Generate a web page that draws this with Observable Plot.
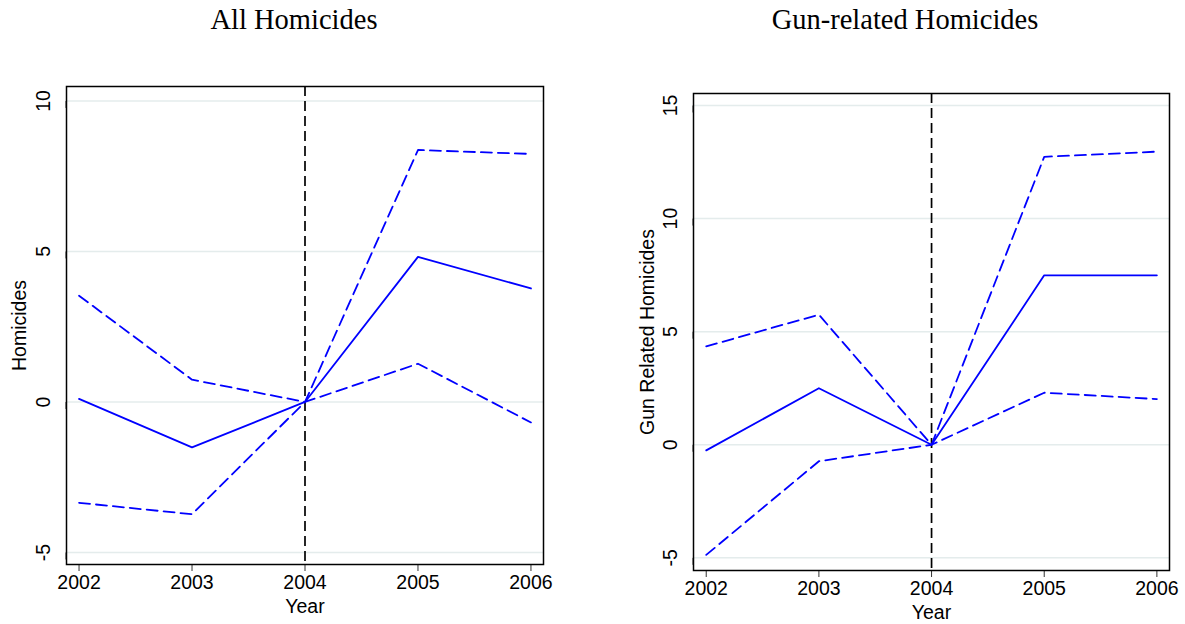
<!DOCTYPE html>
<html>
<head>
<meta charset="utf-8">
<script src="https://cdn.jsdelivr.net/npm/d3@7"></script>
<script src="https://cdn.jsdelivr.net/npm/@observablehq/plot@0.6"></script>
<style>
  html, body { margin: 0; padding: 0; background: #fff; }
  #wrap { position: relative; width: 1185px; height: 624px; overflow: hidden; }
  .title { position: absolute; top: 2px; font-family: "Liberation Serif", "Times New Roman", serif; font-size: 28.5px; color: #000; white-space: nowrap; transform: translateX(-50%); line-height: 36px; }
  .panel { position: absolute; top: 50px; }
</style>
</head>
<body>
<div id="wrap">
  <div class="title" id="t1" style="left:294px;">All Homicides</div>
  <div class="title" id="t2" style="left:905px;">Gun-related Homicides</div>
  <div class="panel" id="p1" style="left:0px;"></div>
  <div class="panel" id="p2" style="left:592px;"></div>
</div>
<script>
const years = [2002, 2003, 2004, 2005, 2006];
const eventYear = 2004;

const allEst   = [0.10, -1.51, 0, 4.82, 3.77];
const allUpper = [3.53, 0.74, 0, 8.37, 8.24];
const allLower = [-3.35, -3.73, 0, 1.27, -0.68];

const gunEst   = [-0.25, 2.50, 0, 7.49, 7.49];
const gunUpper = [4.35, 5.75, 0, 12.73, 12.96];
const gunLower = [-4.87, -0.73, 0, 2.30, 2.02];

const yTicksAll = [-5, 0, 5, 10];
const yTicksGun = [-5, 0, 5, 10, 15];

const panelTitles = ["All Homicides", "Gun-related Homicides"];
const yLabels = ["Homicides", "Gun Related Homicides"];
const xLabel = "Year";

function rows(est, up, lo) {
  return years.flatMap((yr, i) => [
    {year: yr, value: est[i], series: "est"},
    {year: yr, value: up[i], series: "upper"},
    {year: yr, value: lo[i], series: "lower"}
  ]);
}

const FONT = "'Liberation Sans', Arial, Helvetica, sans-serif";

function panel(opts) {
  const data = rows(opts.est, opts.up, opts.lo);
  return Plot.plot({
    width: opts.width,
    height: 574,
    marginLeft: opts.ml,
    marginRight: opts.mr,
    marginTop: opts.mt,
    marginBottom: opts.mb,
    style: {fontFamily: FONT, fontSize: "19.5px", color: "#000", background: "#fff", overflow: "visible"},
    x: {domain: opts.xdom},
    y: {domain: opts.ydom},
    marks: [
      Plot.gridY(opts.yticks, {stroke: "#e4ecec", strokeOpacity: 1, strokeWidth: 1.5}),
      Plot.axisY(opts.yticks, {
        tickFormat: d => String(d), tickSize: 7, tickPadding: 10,
        rotate: -90, textAnchor: "middle", lineAnchor: "bottom",
        stroke: "#333", fontSize: 19.5,
        label: opts.ylabel, labelAnchor: "center", labelArrow: "none", labelOffset: opts.lo2
      }),
      Plot.axisX(years, {
        tickFormat: d => String(d), tickSize: 7, tickPadding: 4,
        stroke: "#333", fontSize: 19.5,
        label: xLabel, labelAnchor: "center", labelArrow: "none", labelOffset: 48
      }),
      Plot.ruleX([eventYear], {stroke: "#000", strokeWidth: 1.7, strokeDasharray: "10,5"}),
      Plot.line(data.filter(d => d.series === "upper"), {x: "year", y: "value", stroke: "#0000ff", strokeWidth: 1.8, strokeDasharray: "11,6"}),
      Plot.line(data.filter(d => d.series === "lower"), {x: "year", y: "value", stroke: "#0000ff", strokeWidth: 1.8, strokeDasharray: "11,6"}),
      Plot.line(data.filter(d => d.series === "est"), {x: "year", y: "value", stroke: "#0000ff", strokeWidth: 1.8}),
      Plot.frame({stroke: "#000", strokeWidth: 1.5})
    ]
  });
}

document.getElementById("p1").appendChild(panel({
  est: allEst, up: allUpper, lo: allLower,
  width: 592, ml: 66, mr: 49, mt: 36, mb: 60,
  xdom: [2001.889, 2006.111], ydom: [-5.40, 10.48],
  yticks: yTicksAll, ylabel: yLabels[0], lo2: 54
}));

document.getElementById("p2").appendChild(panel({
  est: gunEst, up: gunUpper, lo: gunLower,
  width: 593, ml: 101, mr: 16, mt: 43, mb: 54,
  xdom: [2001.887, 2006.112], ydom: [-5.56, 15.53],
  yticks: yTicksGun, ylabel: yLabels[1], lo2: 53
}));
</script>
</body>
</html>
